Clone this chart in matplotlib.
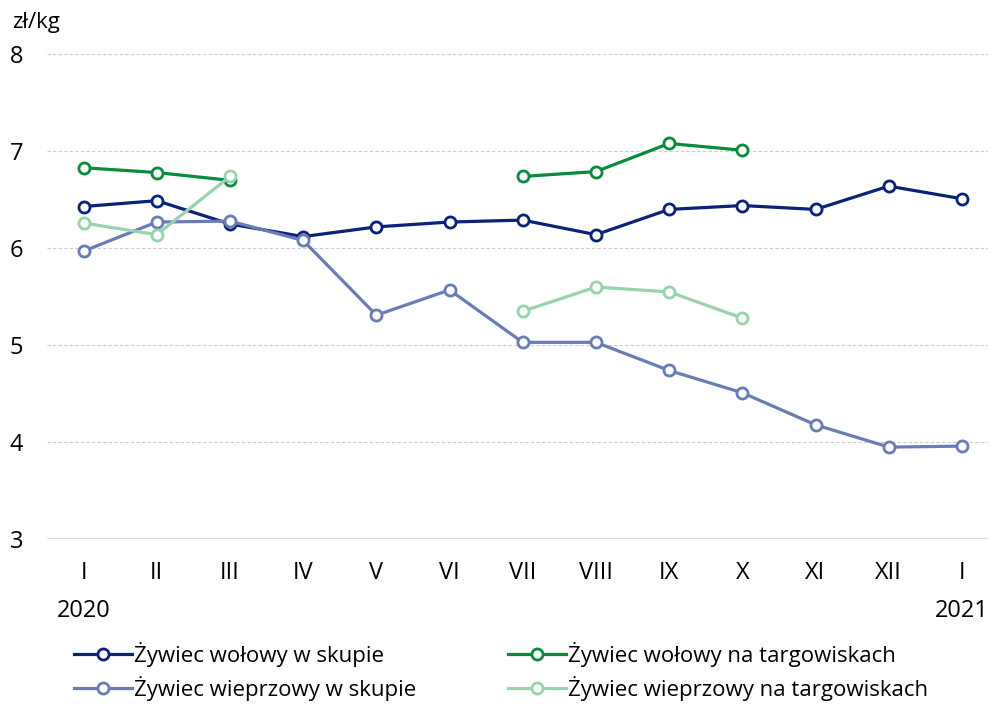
import numpy as np
import matplotlib.pyplot as plt

plt.rcParams['font.family'] = ['Open Sans', 'DejaVu Sans']

# Dane
miesiace = ['I', 'II', 'III', 'IV', 'V', 'VI', 'VII', 'VIII', 'IX', 'X', 'XI', 'XII', 'I']
lata = ['2020', '2021']
nan = np.nan

wolowy_skup = [6.43, 6.49, 6.25, 6.12, 6.22, 6.27, 6.29, 6.14, 6.40, 6.44, 6.40, 6.64, 6.51]
wolowy_targ = [6.83, 6.78, 6.70, nan, nan, nan, 6.74, 6.79, 7.08, 7.01, nan, nan, nan]
wieprz_skup = [5.97, 6.27, 6.28, 6.08, 5.31, 5.57, 5.03, 5.03, 4.74, 4.51, 4.18, 3.95, 3.96]
wieprz_targ = [6.26, 6.14, 6.74, nan, nan, nan, 5.35, 5.60, 5.55, 5.28, nan, nan, nan]

serie = [
    ('Żywiec wołowy w skupie', wolowy_skup, '#0b2278'),
    ('Żywiec wieprzowy w skupie', wieprz_skup, '#6a7cb5'),
    ('Żywiec wołowy na targowiskach', wolowy_targ, '#0a8a3c'),
    ('Żywiec wieprzowy na targowiskach', wieprz_targ, '#98d2ae'),
]

x = np.arange(len(miesiace))

fig = plt.figure(figsize=(9.89, 7.04), dpi=100)
ax = fig.add_axes([0.0475, 0.234, 0.951, 0.689])

for nazwa, y, kolor in serie:
    ax.plot(x, y, color=kolor, lw=2.3, marker='o', ms=8, mfc='white',
            mec=kolor, mew=2, label=nazwa, zorder=3)

ax.set_xlim(-0.5, 12.35)
ax.set_ylim(3, 8)
ax.set_yticks([3, 4, 5, 6, 7, 8])
ax.set_xticks(x)
ax.set_xticklabels(miesiace)

for v in [4, 5, 6, 7, 8]:
    ax.axhline(v, color='#cccccc', lw=0.8, ls=(0, (3, 2)), zorder=1)
ax.axhline(3, color='#d9d9d9', lw=1.5, zorder=1)

for s in ax.spines.values():
    s.set_visible(False)
ax.tick_params(axis='both', length=0, labelsize=17, colors='black')
ax.tick_params(axis='y', pad=17)
ax.tick_params(axis='x', pad=16)

# Etykiety lat
ax.text(0, 2.38, lata[0], ha='center', va='top', fontsize=17)
ax.text(12, 2.38, lata[1], ha='center', va='top', fontsize=17)

fig.text(0.012, 0.953, 'zł/kg', fontsize=16, va='bottom')

h, l = ax.get_legend_handles_labels()
fig.legend(h, l, loc='lower left', bbox_to_anchor=(0.055, -0.024), ncol=2,
           frameon=False, fontsize=16, handlelength=2.6, handletextpad=0.1,
           columnspacing=4.1, labelspacing=0.4)

fig.savefig('out.png', dpi=100)
